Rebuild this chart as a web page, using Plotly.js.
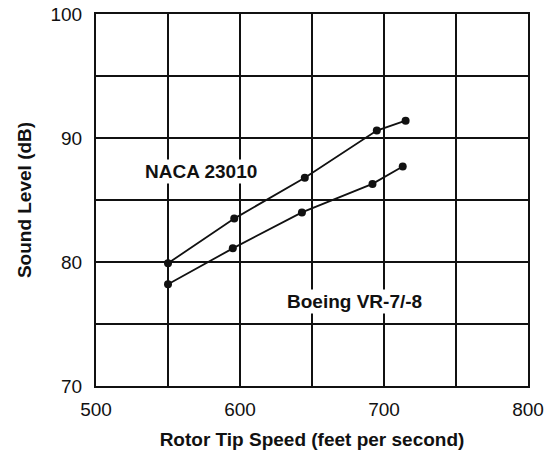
<!DOCTYPE html>
<html>
<head>
<meta charset="utf-8">
<script src="https://cdn.plot.ly/plotly-3.0.1.min.js"></script>
<style>html,body{margin:0;padding:0;background:#fff;}#chart{width:550px;height:458px;}</style>
</head>
<body>
<div id="chart"></div>
<script>
// Data
const nacaSpeed = [550, 596, 645, 695, 715];
const nacaSound = [79.9, 83.5, 86.8, 90.6, 91.4];
const boeingSpeed = [550, 595, 643, 692, 713];
const boeingSound = [78.2, 81.1, 84.0, 86.3, 87.7];
const seriesNames = ["NACA 23010", "Boeing VR-7/-8"];
const xTickVals = [500, 600, 700, 800];
const yTickVals = [70, 80, 90, 100];
const xTitle = "Rotor Tip Speed (feet per second)";
const yTitle = "Sound Level (dB)";
const labelPos = [[573, 87.3], [679.5, 76.8]];

const FONT = "Liberation Sans, Arial, Helvetica, sans-serif";
const INK = "#111111";

const lineStyle = {color: INK, width: 1.8};
const markerStyle = {color: INK, size: 8, symbol: "circle"};

const traces = [
  {x: nacaSpeed, y: nacaSound, name: seriesNames[0], type: "scatter", mode: "lines+markers",
   line: lineStyle, marker: markerStyle, showlegend: false, cliponaxis: false},
  {x: boeingSpeed, y: boeingSound, name: seriesNames[1], type: "scatter", mode: "lines+markers",
   line: lineStyle, marker: markerStyle, showlegend: false, cliponaxis: false}
];

const layout = {
  width: 550, height: 458,
  margin: {l: 96, r: 22, t: 14, b: 72, pad: 0},
  paper_bgcolor: "#ffffff", plot_bgcolor: "#ffffff",
  font: {family: FONT, color: INK, size: 19},
  showlegend: false,
  xaxis: {
    range: [500, 800], tickvals: xTickVals, ticktext: xTickVals.map(String),
    showgrid: true, gridcolor: INK, gridwidth: 1.6,
    minor: {dtick: 50, tick0: 500, showgrid: true, gridcolor: INK, gridwidth: 1.6, ticks: ""},
    showline: true, linecolor: INK, linewidth: 2, mirror: true,
    zeroline: false, ticks: "", ticklabelstandoff: 5,
    tickfont: {family: FONT, size: 19, color: INK},
    title: {text: "<b>" + xTitle + "</b>", standoff: 14, font: {family: FONT, size: 19, color: INK}}
  },
  yaxis: {
    range: [70, 100], tickvals: yTickVals, ticktext: yTickVals.map(String),
    showgrid: true, gridcolor: INK, gridwidth: 1.6,
    minor: {dtick: 5, tick0: 70, showgrid: true, gridcolor: INK, gridwidth: 1.6, ticks: ""},
    showline: true, linecolor: INK, linewidth: 2, mirror: true,
    zeroline: false, ticks: "", ticklabelstandoff: 8,
    tickfont: {family: FONT, size: 19, color: INK},
    title: {text: "<b>" + yTitle + "</b>", standoff: 14, font: {family: FONT, size: 19, color: INK}}
  },
  annotations: [
    {x: labelPos[0][0], y: labelPos[0][1], xref: "x", yref: "y", text: "<b>" + seriesNames[0] + "</b>",
     showarrow: false, font: {family: FONT, size: 19, color: INK}, bgcolor: "#ffffff"},
    {x: labelPos[1][0], y: labelPos[1][1], xref: "x", yref: "y", text: "<b>" + seriesNames[1] + "</b>",
     showarrow: false, font: {family: FONT, size: 19, color: INK}, bgcolor: "#ffffff"}
  ]
};

Plotly.newPlot("chart", traces, layout, {staticPlot: true, displayModeBar: false});
</script>
</body>
</html>
